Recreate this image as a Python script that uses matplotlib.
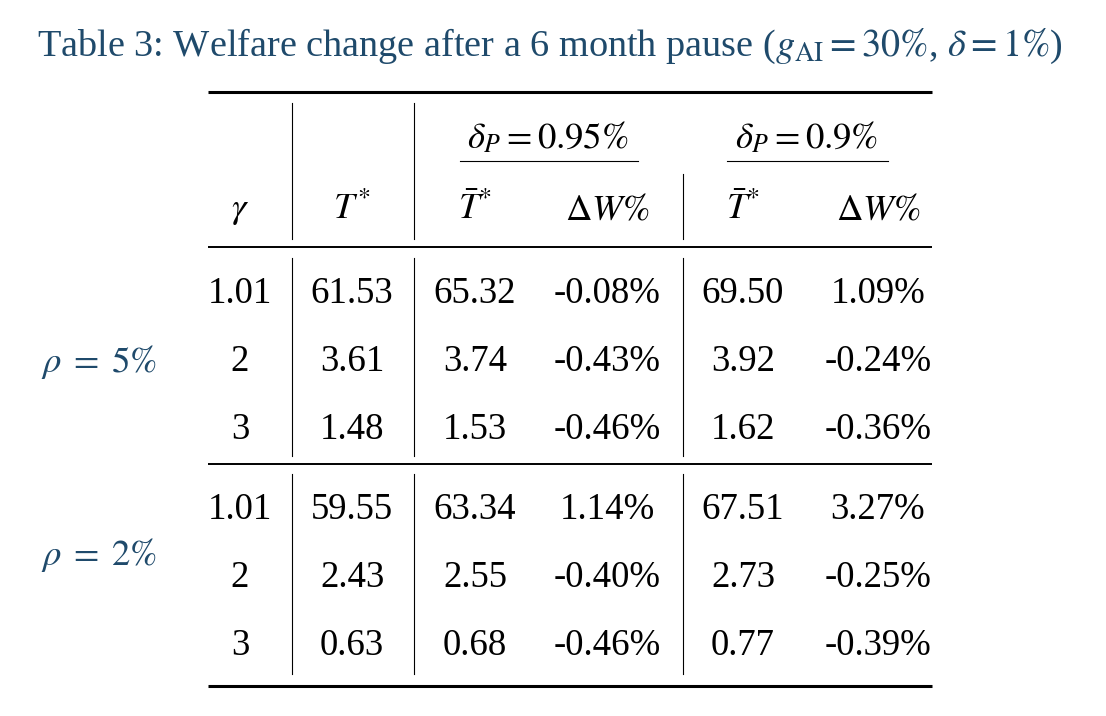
import matplotlib
matplotlib.use('Agg')
import matplotlib.pyplot as plt

plt.rcParams['font.family'] = ['Liberation Serif', 'DejaVu Serif']
plt.rcParams['mathtext.fontset'] = 'stix'

# table contents
title = r'Table 3: Welfare change after a 6 month pause ($g_{\mathrm{AI}} = 30\%$, $\delta = 1\%$)'
group_headers = [r'$\delta_P = 0.95\%$', r'$\delta_P = 0.9\%$']
col_headers = [r'$\gamma$', r'$T^{*}$', r'$\bar{T}^{*}$', r'$\Delta W\%$', r'$\bar{T}^{*}$', r'$\Delta W\%$']
panel_labels = [r'$\rho \;=\; \mathit{5\%}$', r'$\rho \;=\; \mathit{2\%}$']

gamma = ['1.01', '2', '3']
t_star = [['61.53', '3.61', '1.48'], ['59.55', '2.43', '0.63']]
tbar_095 = [['65.32', '3.74', '1.53'], ['63.34', '2.55', '0.68']]
dw_095 = [['-0.08%', '-0.43%', '-0.46%'], ['1.14%', '-0.40%', '-0.46%']]
tbar_09 = [['69.50', '3.92', '1.62'], ['67.51', '2.73', '0.77']]
dw_09 = [['1.09%', '-0.24%', '-0.36%'], ['3.27%', '-0.25%', '-0.39%']]

# layout (pixel coordinates)
W, H = 1106, 716
col_x = [240, 352, 475, 607, 743, 878]
vline_x = [292, 414, 683]
rule_l, rule_r = 208, 932
panel_rows = [[294, 362, 430], [510, 578, 646]]
panel_label_y = [362, 555]
panel_vspan = [(258, 456), (474, 674)]

blue = '#1f4a6b'
fs = 26.5

fig = plt.figure(figsize=(W / 100, H / 100), dpi=100)
ax = fig.add_axes([0, 0, 1, 1])
ax.set_xlim(0, W)
ax.set_ylim(H, 0)
ax.axis('off')

ax.text(550, 46, title, color=blue, fontsize=27.5, ha='center', va='center')

# rules
ax.plot([rule_l, rule_r], [92, 92], color='k', lw=2.2, solid_capstyle='butt')
ax.plot([rule_l, rule_r], [247, 247], color='k', lw=1.4, solid_capstyle='butt')
ax.plot([rule_l, rule_r], [464, 464], color='k', lw=1.4, solid_capstyle='butt')
ax.plot([rule_l, rule_r], [686, 686], color='k', lw=2.2, solid_capstyle='butt')

# header
ax.plot([vline_x[0]] * 2, [103, 239], color='k', lw=0.8)
ax.plot([vline_x[1]] * 2, [103, 239], color='k', lw=0.8)
ax.plot([vline_x[2]] * 2, [174, 239], color='k', lw=0.8)
group_x = [548, 807]
group_ul = [(460, 638), (727, 888)]
for gx, gh, (ul, ur) in zip(group_x, group_headers, group_ul):
    ax.text(gx, 138, gh, fontsize=fs, ha='center', va='center')
    ax.plot([ul, ur], [161, 161], color='k', lw=0.8)
for cx, ch in zip(col_x, col_headers):
    ax.text(cx, 210, ch, fontsize=fs, ha='center', va='center')

# body
for p in range(2):
    y0, y1 = panel_vspan[p]
    for vx in vline_x:
        ax.plot([vx, vx], [y0, y1], color='k', lw=0.8)
    ax.text(99, panel_label_y[p], panel_labels[p], color=blue, fontsize=fs,
            ha='center', va='center')
    for r, y in enumerate(panel_rows[p]):
        cells = [gamma[r], t_star[p][r], tbar_095[p][r], dw_095[p][r],
                 tbar_09[p][r], dw_09[p][r]]
        for cx, val in zip(col_x, cells):
            ax.text(cx, y, val, fontsize=fs, ha='center', va='center')

fig.savefig('out.png', dpi=100)
